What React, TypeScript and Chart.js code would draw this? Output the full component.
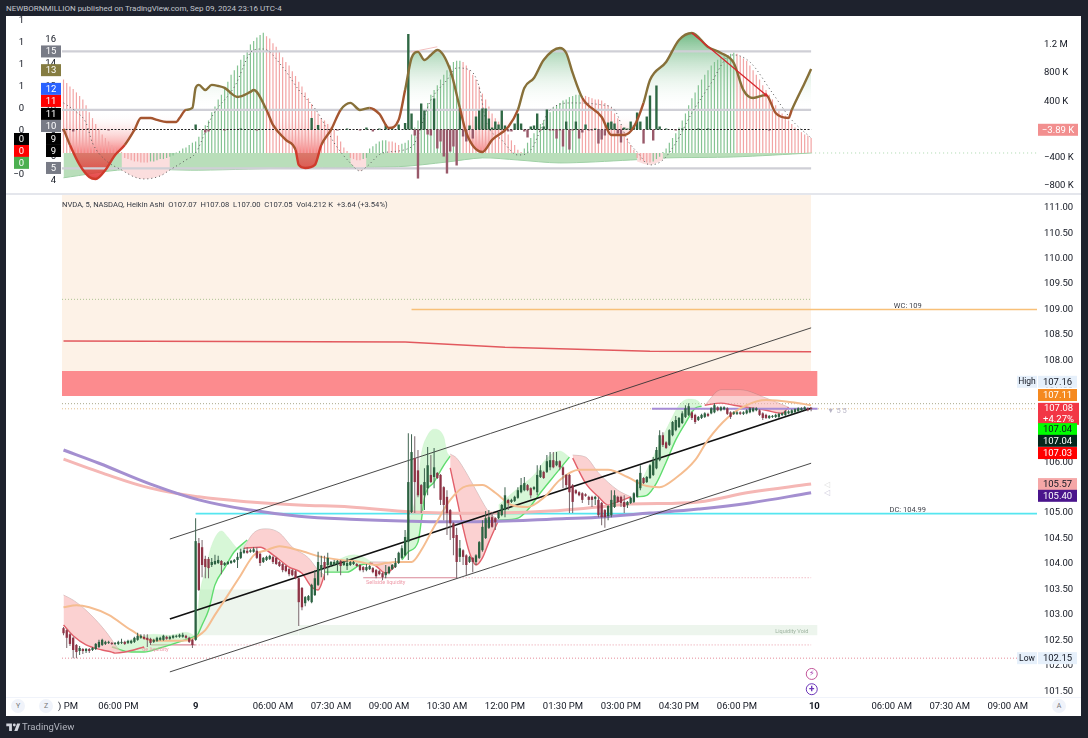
import React, { useEffect, useRef } from "react";
import { Chart, registerables } from "chart.js";

Chart.register(...registerables);

const FONT = "Roboto, 'Liberation Sans', sans-serif";

// ---------- axes ----------
const timeTickBars = [1.4, 17, 41, 65, 83, 101, 119, 137, 155, 173, 191, 209, 233, 257, 275, 293];
const timeTickLabels = [") PM", "06:00 PM", "9", "06:00 AM", "07:30 AM", "09:00 AM", "10:30 AM", "12:00 PM", "01:30 PM", "03:00 PM", "04:30 PM", "06:00 PM", "10", "06:00 AM", "07:30 AM", "09:00 AM"];
const priceTicks = [111, 110.5, 110, 109.5, 109, 108.5, 108, 107.5, 107, 106.5, 106, 105.5, 105, 104.5, 104, 103.5, 103, 102.5, 102, 101.5];
const volumeTicks = [1200, 800, 400, 0, -400, -800];
const volumeTickLabels = ["1.2 M", "800 K", "400 K", "0", "−400 K", "−800 K"];
const bandTicks = [16, 14, 12, 10, 8, 6, 4];
const outerTicks = [1.2, 1, 0.8, 0.6, 0.4, 0.2, 0, -0.2];

// ---------- price candles ----------
const opens = [
102.74,102.70,102.62,102.55,102.41,102.29,102.33,102.29,102.33,102.31,
102.33,102.37,102.41,102.43,102.45,102.45,102.43,102.43,102.45,102.47,
102.45,102.45,102.47,102.51,102.55,102.57,102.55,102.53,102.47,102.49,
102.51,102.51,102.57,102.53,102.55,102.57,102.57,102.57,102.59,102.55,
102.51,102.51,104.41,104.33,104.10,104.10,103.98,104.00,104.02,104.06,
103.98,104.00,104.02,104.04,104.08,104.12,104.22,104.26,104.24,104.24,
104.26,104.20,104.04,104.08,104.10,104.14,104.12,104.04,104.00,103.96,
103.90,103.88,103.86,103.72,103.53,103.23,103.29,103.25,103.39,103.59,
103.88,104.04,103.98,103.98,103.98,104.00,104.06,103.98,103.96,103.98,
104.00,104.00,103.98,103.94,103.88,103.90,103.92,103.88,103.86,103.82,
103.78,103.82,103.90,103.94,104.02,104.12,104.17,104.43,105.02,106.08,
105.84,105.55,105.35,105.49,105.75,105.71,105.79,105.75,105.51,105.32,
105.06,104.80,104.57,104.14,104.27,104.17,104.04,104.12,104.04,104.12,
104.27,104.51,104.71,104.92,104.90,104.90,104.96,105.06,105.26,105.22,
105.24,105.30,105.41,105.45,105.55,105.49,105.47,105.41,105.71,105.81,
105.81,105.90,106.04,105.94,106.02,105.90,105.75,105.75,105.55,105.45,
105.41,105.39,105.37,105.32,105.32,105.28,105.26,105.20,105.06,104.94,
104.96,105.12,105.32,105.32,105.22,105.16,105.20,105.22,105.32,105.49,
105.69,105.61,105.69,105.75,105.88,106.04,106.53,106.39,106.34,106.53,
106.63,106.69,106.77,106.89,106.93,106.98,106.93,106.83,106.87,106.89,
106.95,106.96,106.98,107.08,107.02,107.04,107.06,106.98,106.95,106.95,
106.98,106.95,106.96,106.98,107.00,107.02,107.02,106.96,106.93,106.87,
106.89,106.89,106.89,106.93,106.93,106.96,106.96,106.98,107.00,107.02,107.04,107.06,107.07];
const closes = [
102.64,102.55,102.43,102.31,102.27,102.35,102.29,102.33,102.29,102.35,
102.43,102.47,102.51,102.47,102.47,102.43,102.45,102.47,102.47,102.43,
102.49,102.49,102.55,102.59,102.59,102.53,102.51,102.45,102.51,102.55,
102.55,102.59,102.53,102.57,102.59,102.59,102.61,102.61,102.55,102.47,
102.41,104.45,103.49,103.98,103.94,103.92,104.04,104.06,104.08,103.98,
104.02,104.04,104.06,104.08,104.14,104.24,104.27,104.22,104.27,104.29,
104.12,104.02,104.12,104.14,104.16,104.04,104.00,103.96,103.88,103.86,
103.80,103.78,103.72,103.25,103.15,103.35,103.37,103.59,103.72,104.04,
103.98,103.92,104.12,104.04,104.04,104.06,103.96,104.04,104.02,104.04,
104.04,103.96,103.88,103.88,103.94,103.96,103.84,103.76,103.80,103.74,
103.84,103.94,103.98,104.02,104.22,104.31,104.53,105.61,106.20,105.61,
105.35,105.18,105.61,105.94,105.61,105.90,105.69,105.26,105.16,105.00,
104.80,104.51,104.04,104.31,104.14,103.98,104.14,104.04,104.17,104.43,
104.73,104.90,104.92,104.73,104.82,105.02,105.16,105.35,105.20,105.26,
105.32,105.45,105.55,105.59,105.45,105.35,105.51,105.75,105.84,105.69,
106.02,106.04,105.90,106.02,105.90,105.75,105.55,105.41,105.22,105.39,
105.35,105.26,105.34,105.26,105.26,105.32,104.96,104.92,104.92,105.14,
105.26,105.35,105.22,105.20,105.12,105.22,105.30,105.39,105.65,105.79,
105.59,105.71,105.94,106.02,106.24,106.53,106.34,106.28,106.63,106.79,
106.83,106.87,106.96,107.06,107.10,106.87,106.79,106.89,106.93,106.96,
106.91,107.06,107.12,107.02,107.08,107.08,106.95,106.89,106.98,106.98,
106.95,106.98,107.02,107.06,107.06,107.06,106.93,106.87,106.87,106.91,
106.91,106.93,106.95,106.96,107.00,107.00,107.02,107.04,107.06,107.06,107.08,107.02,107.05];
const highs = [
102.76,102.72,102.64,102.57,102.43,102.39,102.35,102.35,102.35,102.37,
102.45,102.51,102.53,102.49,102.49,102.47,102.47,102.49,102.53,102.49,
102.51,102.51,102.57,102.65,102.62,102.62,102.62,102.55,102.53,102.57,
102.57,102.61,102.59,102.59,102.61,102.61,102.63,102.65,102.61,102.57,
102.53,104.90,104.51,104.47,104.16,104.14,104.12,104.18,104.16,104.08,
104.04,104.06,104.08,104.10,104.22,104.30,104.32,104.33,104.30,104.33,
104.33,104.22,104.14,104.16,104.18,104.16,104.14,104.06,104.02,103.98,
103.92,103.90,103.88,103.74,103.55,103.37,103.39,103.61,103.88,104.24,
104.16,104.16,104.22,104.06,104.08,104.08,104.08,104.06,104.12,104.06,
104.06,104.02,104.00,103.96,104.00,103.98,103.94,103.90,103.88,103.84,
103.98,103.96,104.00,104.12,104.24,104.37,104.67,106.57,106.55,106.51,
106.24,105.57,105.88,106.30,106.14,106.28,105.81,105.77,105.53,105.45,
105.08,104.82,104.71,104.47,104.29,104.19,104.16,104.14,104.19,104.45,
104.86,105.04,105.06,105.02,104.92,105.04,105.18,105.51,105.28,105.28,
105.34,105.51,105.69,105.71,105.57,105.51,105.53,105.94,105.94,105.83,
106.14,106.20,106.20,106.20,106.04,105.92,105.77,105.77,105.57,105.47,
105.43,105.41,105.39,105.34,105.34,105.34,105.32,105.22,105.08,105.16,
105.45,105.45,105.34,105.34,105.35,105.24,105.32,105.41,105.67,105.94,
105.71,105.73,105.96,106.10,106.30,106.63,106.59,106.41,106.65,106.81,
106.91,106.89,107.00,107.12,107.16,107.00,106.95,106.91,106.95,106.98,
106.97,107.08,107.16,107.10,107.10,107.10,107.08,107.00,107.00,107.00,
107.00,107.00,107.04,107.08,107.08,107.08,107.04,106.98,106.95,106.93,
106.93,106.95,106.97,106.98,107.02,107.02,107.04,107.06,107.08,107.08,107.10,107.08,107.08];
const lows = [
102.60,102.35,102.39,102.15,102.15,102.21,102.23,102.25,102.25,102.29,
102.31,102.35,102.39,102.41,102.43,102.41,102.41,102.41,102.43,102.41,
102.43,102.43,102.45,102.49,102.53,102.51,102.37,102.41,102.45,102.47,
102.49,102.49,102.51,102.51,102.53,102.55,102.55,102.55,102.53,102.45,
102.35,102.49,103.47,103.74,103.72,103.72,103.94,103.98,104.00,103.80,
103.96,103.98,104.00,104.02,103.92,104.10,104.20,104.20,104.22,104.22,
104.10,103.96,104.02,104.06,104.08,104.00,103.98,103.94,103.84,103.84,
103.76,103.76,103.70,102.78,103.09,103.17,103.27,103.23,103.37,103.57,
103.74,103.68,103.78,103.94,103.96,103.86,103.78,103.96,103.88,103.96,
103.98,103.94,103.86,103.84,103.86,103.88,103.82,103.72,103.78,103.68,
103.72,103.80,103.88,103.92,104.00,104.10,104.15,104.08,105.00,105.00,
105.31,105.00,105.06,105.35,105.59,105.49,105.67,105.16,104.86,104.57,
104.47,104.17,103.72,104.04,103.98,103.78,104.02,103.84,103.98,104.10,
104.24,104.49,104.69,104.71,104.67,104.88,104.94,104.92,105.06,105.20,
105.22,105.28,105.39,105.43,105.43,105.29,105.45,105.35,105.69,105.67,
105.79,105.84,105.88,105.92,105.84,105.49,105.49,105.00,105.00,105.37,
105.33,105.20,105.32,105.16,105.12,105.16,104.92,104.76,104.71,104.86,
104.92,105.10,105.20,105.12,105.00,105.10,105.18,105.20,105.30,105.45,
105.57,105.59,105.67,105.73,105.86,106.02,106.30,106.26,106.32,106.51,
106.61,106.67,106.75,106.87,106.91,106.83,106.75,106.81,106.85,106.87,
106.89,106.94,106.96,107.00,107.00,107.02,106.93,106.85,106.93,106.93,
106.93,106.93,106.94,106.96,106.98,107.00,106.91,106.83,106.85,106.85,
106.87,106.87,106.87,106.91,106.91,106.94,106.94,106.96,106.98,107.00,107.02,107.00,107.00];

// ---------- price overlays: [bar, price] ----------
const purpleMA = [[0,106.24],[11,105.98],[27,105.57],[42,105.26],[58,105.06],[73,104.94],[89,104.88],[108,104.84],[120,104.83],[135,104.84],[151,104.88],[166,104.92],[182,105],[197,105.08],[213,105.2],[232,105.4]];
const pinkMA = [[0,106.06],[11,105.81],[27,105.49],[42,105.32],[58,105.22],[73,105.16],[89,105.12],[108,105.02],[120,105],[135,105],[151,105.04],[166,105.12],[176,105.18],[197,105.22],[213,105.41],[232,105.57]];
const redMA = [[0,108.38],[106,108.36],[137,108.26],[182,108.18],[232,108.17]];
const tanMA = [[0,103.15],[4,103.19],[8,103.15],[14,103],[21,102.7],[27,102.5],[33,102.49],[39,102.5],[41,102.56],[44,102.7],[47,103],[50,103.29],[55,103.78],[59,104.17],[63,104.27],[67,104.35],[73,104.27],[80,104.14],[86,104.08],[92,104.04],[97,103.98],[100,104.02],[104,104.04],[108,104.04],[111,104.27],[115,104.73],[120,105.26],[125,105.53],[130,105.55],[134,105.4],[139,105.16],[144,105.12],[149,105.3],[154,105.65],[160,105.85],[169,105.85],[175,105.71],[180,105.55],[185,105.51],[190,105.69],[196,106.04],[200,106.44],[206,106.87],[212,107.12],[218,107.22],[226,107.18],[232,107.12]];
const channelUpper = [[33,104.49],[232,108.64]];
const channelMid = [[33,102.92],[232,107.06]];
const channelLower = [[33,101.88],[232,105.98]];

const redClouds = [
  { up: [[0,103.39],[3,103.29],[7,103.09],[12,102.76],[15,102.51],[16,102.41],[19,102.27],[25,102.37]], low: [[0,102.8],[3,102.59],[7,102.41],[12,102.31],[15,102.27],[16,102.25],[19,102.27],[25,102.37]] },
  { up: [[56,104.33],[59,104.61],[63,104.69],[67,104.61],[71,104.33],[76,104.12],[79,103.88],[81,103.78]], low: [[56,104.31],[61,104.33],[65,104.18],[70,103.94],[74,103.82],[77,103.55],[79,103.49],[81,103.78]] },
  { up: [[95,104.04],[100,104.04],[103,103.96]], low: [[95,104.02],[97,103.96],[100,103.82],[103,103.96]] },
  { up: [[120,106.16],[122,106.08],[125,105.79],[128,105.45],[130,105.22],[132,105.02],[135,104.86]], low: [[120,105.89],[122,105.3],[124,104.71],[126,104.22],[128,103.98],[130,104.12],[132,104.43],[135,104.86]] },
  { up: [[158,106.14],[162,106.1],[166,105.79],[172,105.45],[176,105.32]], low: [[158,106.08],[162,105.59],[166,105.32],[169,105.16],[172,105.22],[176,105.32]] },
  { up: [[199,107.12],[204,107.42],[210,107.42],[218,107.26],[225,107.08]], low: [[199,107.12],[204,107.16],[208,107.12],[214,107.06],[218,107.02],[223,106.96],[225,107.08]] },
];
const greenClouds = [
  { up: [[15,102.37],[21,102.51],[28,102.62],[33,102.6],[38,102.66],[41,102.58]], low: [[15,102.37],[21,102.27],[25,102.27],[30,102.35],[35,102.45],[41,102.58]] },
  { up: [[41,102.51],[42,103.29],[44,103.88],[46,104.37],[49,104.65],[51,104.53],[53,104.37],[55,104.26],[57,104.47]], low: [[41,102.51],[43,102.8],[45,103.09],[47,103.59],[50,103.92],[53,104.24],[57,104.47]] },
  { up: [[81,103.98],[85,104.08],[90,104.18],[93,104.14],[96,104.02]], low: [[81,103.84],[88,103.84],[92,103.98],[96,104.02]] },
  { up: [[105,104.08],[107,104.77],[110,105.55],[111,106.14],[113,106.53],[115,106.65],[118,106.5],[119,106.2],[120,106.12]], low: [[105,104.08],[107,104.24],[110,104.43],[111,104.83],[112,105.3],[115,105.61],[118,105.94],[120,106.12]] },
  { up: [[135,105.16],[141,105.49],[146,105.75],[150,106.08],[154,106.22],[157,106.1]], low: [[135,104.86],[141,104.9],[144,105.06],[148,105.4],[153,105.79],[157,106.1]] },
  { up: [[178,105.45],[184,106.24],[188,106.77],[191,107.12],[194,107.24],[197,107.2],[198,107.1]], low: [[178,105.32],[181,105.35],[184,105.59],[187,106],[190,106.44],[193,106.77],[196,107.06],[198,107.1]] },
];

// ---------- price labels ----------
const priceNotes = [
  { bar: 262, price: 109.07, text: "WC: 109", color: "#3c3f48", size: 7.5 },
  { bar: 262, price: 105.06, text: "DC: 104.99", color: "#3c3f48", size: 7.5 },
  { bar: 100, price: 103.64, text: "Sellside liquidity", color: "#ee9aa8", size: 5.5 },
  { bar: 28.5, price: 102.31, text: "de liquidity", color: "#ee9aa8", size: 5.5 },
  { bar: 226, price: 102.68, text: "Liquidity Void", color: "#9db39f", size: 5.5 },
  { bar: 240, price: 107.0, text: "▼ 5 5", color: "#b8b5c6", size: 7.5 },
  { bar: 237, price: 105.55, text: "◁", color: "#ddd", size: 7.5 },
  { bar: 237, price: 105.39, text: "◁", color: "#cfcbdc", size: 7.5 },
];
const priceTagLabels = ["107.16", "107.11", "107.08\n+4.27%", "107.04", "107.04", "107.03", "105.57", "105.40", "102.15"];
const priceTagSlots = [107.58, 107.32, 106.95, 106.65, 106.42, 106.18, 105.57, 105.34, 102.15];
const priceTagFills = ["#e6f0fb", "#f5891f", "#f23645", "#00ff00", "#05271c", "#ff0000", "#f5a7a7", "#4a148c", "#e6f0fb"];
const priceTagInks = ["#131722", "#fff", "#fff", "#131722", "#fff", "#fff", "#131722", "#fff", "#131722"];

// ---------- indicator pane: [bar, value] ----------
const momentumLine = [[0,8.38],[2,7],[5,5.3],[8,4.27],[10,4.1],[13,4.87],[16,6.15],[19,7],[22,8.29],[24,9.31],[27,9.31],[29,9.15],[32,8.97],[35,8.97],[36,9.31],[38,10],[40,10.17],[41,11.88],[42,12.14],[44,11.7],[46,12.14],[48,12.05],[50,11.88],[54,11.11],[58,11.54],[59,11.71],[63,10],[65,8.72],[69,7.44],[72,6.58],[73,5.3],[75,5.04],[78,5.3],[80,7],[83,8.29],[86,10],[89,10.6],[92,10],[95,10.17],[98,9.66],[101,8.46],[104,9.15],[106,11.7],[108,14.44],[110,14.96],[112,14.27],[114,14.7],[116,15.13],[120,13.42],[123,10.17],[125,8.03],[130,6.41],[133,7.44],[138,8.55],[141,10],[143,11.88],[146,12.73],[149,14.27],[154,15.3],[156,14.87],[158,13.16],[161,11.02],[167,9.4],[170,7.86],[174,7.86],[177,8.55],[180,10.6],[182,12.56],[187,14.1],[191,15.98],[195,16.58],[200,15.38],[204,14.87],[208,14.01],[211,11.7],[214,11.02],[218,11.28],[221,9.74],[225,9.31],[226,10],[230,12.31],[232,13.5]];
const dottedCurve = [[0,10.6],[4,9.83],[7,8.89],[9,7.18],[13,5.72],[18,4.87],[22,4.27],[25,4.1],[30,4.36],[33,4.87],[38,5.72],[41,6.32],[46,9.4],[53,11.96],[59,15.13],[62,15.21],[68,13.67],[73,11.71],[79,9.74],[84,7.18],[89,5.47],[92,4.78],[94,5.13],[99,6.32],[108,6.84],[114,10.85],[119,12.56],[122,13.59],[126,13.42],[129,11.96],[131,9.14],[136,7.43],[141,6.15],[145,6.58],[151,10],[158,10.6],[167,10.43],[171,10],[175,7.43],[178,6.41],[182,5.3],[186,5.72],[190,7.18],[195,9.74],[201,12.31],[206,14.53],[208,14.7],[213,14.1],[220,11.45],[226,9.14],[232,7.6]];
const squeezeZoneA = [[18,4.87],[22,4.27],[25,4.1],[30,4.36],[33,4.87]];
const squeezeZoneB = [[89,5.47],[92,4.78],[94,5.13]];
const squeezeZoneC = [[178,5.6],[182,5.3],[186,5.72]];
const histTops = [
12.6,12.3,12.0,11.8,11.5,11.2,10.9,10.4,9.8,9.3,8.8,8.4,7.9,7.6,7.3,7.0,6.8,6.6,6.4,
5.9,5.8,5.7,5.6,5.6,5.5,5.5,5.5,5.6,5.6,5.7,5.8,5.8,5.9,6.0,
6.1,6.3,6.5,6.7,6.8,7.0,7.2,7.3,7.7,8.3,8.7,9.1,9.8,10.3,10.9,11.3,11.9,12.4,13.0,13.4,13.8,14.3,14.7,15.1,15.6,15.9,16.2,16.4,
16.6,16.3,16.1,15.7,15.4,15,14.5,14.1,13.8,13.3,12.9,12.4,12,11.5,11,10.5,10,9.7,9.3,9.1,8.8,8.5,8.3,7.8,7.3,6.8,6.5,
5.9,5.8,5.7,5.7,5.8,5.9,
6.7,6.9,7.1,7.3,7.4,7.4,7.3,7.3,7.2,7.0,7.1,7.2,7.4,7.9,8.5,9.1,9.3,10,10.6,11.3,11.7,12.1,12.6,13,13.4,13.8,14.1,14.2,
14.2,14.1,13.8,13.4,13,12.6,12.0,11.4,10.9,10.3,9.7,9.3,9,8.6,8.3,7.9,7.4,7,6.6,
6.4,6.7,7.2,7.6,8,8.5,8.8,9.1,9.5,9.8,10.2,10.4,10.6,10.8,10.9,11.1,11.2,
11.3,11.3,11.2,11.2,11.1,11,10.9,10.9,10.8,10.6,10.4,10.2,9.7,9.3,8.7,8.1,7.6,7,6.6,
5.9,5.7,5.6,5.5,5.5,5.6,5.8,6,
6.4,6.7,7.2,7.6,8,8.5,9.1,9.7,10.4,11,11.5,12.1,12.6,13,13.4,13.8,14.1,14.3,14.5,14.6,14.7,14.8,
14.9,14.8,14.6,14.4,14.2,13.8,13.4,13,12.6,12.1,11.7,11.3,10.9,10.4,10,9.7,9.5,9.1,8.8,8.5,8.3,8.1,7.9,7.8,7.6];
const ribbonLower = [[0,4.2],[19,4.9],[42,4.85],[73,5.05],[104,5.15],[119,5.55],[130,5.9],[141,5.72],[154,5.47],[176,5.72],[187,5.9],[208,5.98],[232,6.32]];
const deltaBars = [[0,-28],[3,-28],[14,-14],[22,-14],[41,71],[44,-43],[45,-28],[50,-14],[55,14],[60,-14],[77,163],[79,64],[85,-14],[88,14],[92,-14],[94,28],[96,-28],[98,14],[100,71],[102,28],[104,71],[106,92],[107,1354],[108,227],[109,-85],[110,-695],[111,369],[112,270],[113,-71],[114,-85],[115,440],[116,-269],[117,-170],[118,-383],[119,-624],[120,-312],[121,-241],[122,-510],[123,298],[124,-99],[125,-170],[126,57],[127,-128],[128,184],[129,269],[130,298],[131,298],[132,156],[133,28],[134,113],[135,71],[136,269],[137,57],[138,-28],[139,-28],[140,85],[141,227],[142,85],[143,-28],[144,-113],[145,43],[146,57],[147,227],[148,-14],[149,43],[150,284],[151,-14],[152,-14],[153,-128],[154,-14],[155,-241],[156,113],[157,-284],[158,-14],[159,113],[160,-128],[161,-43],[162,71],[163,-14],[164,-14],[165,14],[166,-199],[167,-142],[168,-85],[169,99],[170,113],[171,85],[172,-57],[173,-184],[174,28],[175,14],[176,113],[177,57],[178,241],[179,113],[180,-199],[181,184],[182,482],[183,-156],[184,624],[185,43],[187,14],[190,-14],[192,14],[197,14],[200,14],[219,-14]];
const arrowLine = [[195,16.58],[218,11.28]];
const faintTrend = [[108,14.96],[116,15.4]];
const HIST_BASE = 6.32;

const bandTagLabels = ["15", "13", "12", "11", "11", "10", "9", "9", "5"];
const bandTagSlots = [15, 13.4, 11.8, 10.77, 9.66, 8.63, 7.52, 6.49, 5.04];
const bandTagFills = ["#787b86", "#857c41", "#2962ff", "#ff0000", "#000000", "#787b86", "#000000", "#000000", "#787b86"];
const outerTagLabels = ["0", "0", "0"];
const outerTagSlots = [0.127, 0.018, -0.09];
const outerTagFills = ["#000000", "#ff0000", "#4caf50"];

const legendText = "NVDA, 5, NASDAQ, Heikin Ashi  O107.07  H107.08  L107.00  C107.05  Vol4.212 K  +3.64 (+3.54%)";
const headerText = "NEWBORNMILLION published on TradingView.com, Sep 09, 2024 23:16 UTC-4";

const pts = (list: number[][]) => list.map(([x, y]) => ({ x, y }));
const X_MIN = -0.47;
const X_MAX = 302.1;
const X_END = 234;
const BAND_MIN = 2.9;
const BAND_MAX = 18.03;
const TOP_HEIGHT = 177;
const bandPixel = (v: number) => ((BAND_MAX - v) / (BAND_MAX - BAND_MIN)) * TOP_HEIGHT;

function lineSet(list: number[][], color: string, width: number, order: number, extra: any = {}) {
  return { type: "line", data: pts(list), borderColor: color, borderWidth: width, pointRadius: 0, fill: false, order, ...extra };
}
function zone(x0: number, x1: number, top: number, bottom: number, color: string, order: number) {
  return { type: "line", data: pts([[x0, top], [x1, top]]), borderWidth: 0, pointRadius: 0, backgroundColor: color, fill: { value: bottom }, order };
}
function barSet(data: any[], yAxisID: string, width: number, color: any, order: number) {
  return { type: "bar", data, yAxisID, grouped: false, barThickness: width, maxBarThickness: width, inflateAmount: 0, minBarLength: 0.8, backgroundColor: color, borderWidth: 0, order };
}
function presetTicks(values: number[]) {
  return (scale: any) => { scale.ticks = values.map((value) => ({ value })); };
}
function clearPadding(scale: any) {
  scale.paddingTop = 0;
  scale.paddingBottom = 0;
  scale.paddingLeft = 0;
  scale.paddingRight = 0;
}
function fixedWidth(w: number) {
  return (scale: any) => { scale.width = w; clearPadding(scale); };
}
function tag(ctx: any, x: number, y: number, w: number, h: number, fill: string, ink: string, text: string, size = 9.5) {
  ctx.fillStyle = fill;
  ctx.fillRect(x, y - h / 2, w, h);
  ctx.fillStyle = ink;
  ctx.textAlign = "center";
  ctx.textBaseline = "middle";
  ctx.font = `${size}px ${FONT}`;
  const lines = text.split("\n");
  lines.forEach((t, i) => ctx.fillText(t, x + w / 2, y + (i - (lines.length - 1) / 2) * 10.5 + 0.5));
}

const pricePlugin = {
  id: "priceTags",
  afterDraw(chart: any) {
    const { ctx, scales } = chart;
    const yS = scales.y, xS = scales.x;
    ctx.save();
    priceNotes.forEach((n) => {
      ctx.fillStyle = n.color;
      ctx.font = `${n.size}px ${FONT}`;
      ctx.textAlign = "center";
      ctx.textBaseline = "middle";
      ctx.fillText(n.text, xS.getPixelForValue(n.bar), yS.getPixelForValue(n.price));
    });
    priceTagLabels.forEach((label, i) => {
      const y = yS.getPixelForValue(priceTagSlots[i]);
      const h = label.includes("\n") ? 22 : 12;
      tag(ctx, 1032, y, i === 2 ? 41 : 39, h, priceTagFills[i], priceTagInks[i], label);
    });
    tag(ctx, 1011, yS.getPixelForValue(107.58), 20, 12, "#e6f0fb", "#131722", "High", 8.5);
    tag(ctx, 1011, yS.getPixelForValue(102.15), 20, 12, "#e6f0fb", "#131722", "Low", 8.5);
    // chart-side icons
    const ix = xS.getPixelForValue(232.2);
    const iy1 = yS.getPixelForValue(101.84), iy2 = yS.getPixelForValue(101.54);
    ctx.lineWidth = 1;
    ctx.strokeStyle = "#c2569a";
    ctx.beginPath(); ctx.arc(ix, iy1, 5.5, 0, Math.PI * 2); ctx.stroke();
    ctx.strokeStyle = "#6b35b8";
    ctx.beginPath(); ctx.arc(ix, iy2, 5.5, 0, Math.PI * 2); ctx.stroke();
    ctx.fillStyle = "#a33bb0";
    ctx.font = `8px 'DejaVu Sans'`;
    ctx.textAlign = "center";
    ctx.textBaseline = "middle";
    ctx.fillText("⚡", ix, iy1);
    ctx.fillStyle = "#6b35b8";
    ctx.font = `bold 10px ${FONT}`;
    ctx.fillText("+", ix, iy2);
    ctx.restore();
  },
};

const indicatorPlugin = {
  id: "indicatorTags",
  afterDraw(chart: any) {
    const { ctx, scales } = chart;
    ctx.save();
    bandTagLabels.forEach((label, i) => {
      const narrow = label.length === 1;
      tag(ctx, narrow ? 40 : 35, scales.y1.getPixelForValue(bandTagSlots[i]), narrow ? 15 : 20, 12, bandTagFills[i], "#fff", label);
    });
    outerTagLabels.forEach((label, i) => {
      tag(ctx, 8, scales.y2.getPixelForValue(outerTagSlots[i]), 15, 12, outerTagFills[i], "#fff", label);
    });
    tag(ctx, 1032, scales.v.getPixelForValue(-3.89), 40, 12, "#f28f8f", "#fff", "−3.89 K");
    ctx.restore();
  },
};

function priceDatasets() {
  const ds: any[] = [];
  ds.push(zone(X_MIN, 232, 111.4, 107.79, "#fdf2e7", 60));
  ds.push(zone(X_MIN, X_END, 107.79, 107.3, "#fc8b8e", 59));
  ds.push(zone(42, 73, 103.5, 102.6, "#edf5ed", 58));
  ds.push(zone(73, X_END, 102.8, 102.6, "#edf5ed", 58));
  ds.push(lineSet([[X_MIN, 109.2], [232, 109.2]], "rgba(120,165,90,0.6)", 1, 40, { borderDash: [1, 2] }));
  ds.push(lineSet([[108, 109], [X_MAX, 109]], "#f8c078", 1.4, 40));
  ds.push(lineSet([[41, 104.99], [X_MAX, 104.99]], "#55e6f0", 1.6, 40));
  ds.push(lineSet(redMA, "#e2595e", 1.5, 30));
  ds.push(lineSet(channelUpper, "#333", 0.9, 20));
  ds.push(lineSet(channelLower, "#333", 0.9, 20));
  ds.push(lineSet(channelMid, "#111", 1.7, 20));
  ds.push(lineSet(pinkMA, "#f5b7b5", 3, 25, { tension: 0.4 }));
  ds.push(lineSet(purpleMA, "#a48fd0", 3, 24, { tension: 0.4 }));
  ds.push(lineSet([[182.6, 107.05], [X_END, 107.05]], "#a58bd6", 2.2, 24));
  ds.push(lineSet([[41, 102.41], [232, 102.41]], "#e89aa6", 1, 35, { borderDash: [1, 2] }));
  ds.push(lineSet([[27, 102.41], [41, 102.41]], "#d98797", 1.2, 35));
  ds.push(lineSet([[X_MIN, 102.15], [X_MAX, 102.15]], "#e58a98", 1, 35, { borderDash: [1, 2] }));
  ds.push(lineSet([[93, 103.73], [122, 103.73]], "#d98797", 1.2, 35));
  ds.push(lineSet([[122, 103.73], [232, 103.73]], "#e89aa6", 1, 35, { borderDash: [1, 2] }));
  ds.push(lineSet([[X_MIN, 107.15], [X_MAX, 107.15]], "#a8a88a", 1, 34, { borderDash: [1, 2] }));
  ds.push(lineSet([[X_MIN, 107.05], [X_MAX, 107.05]], "#e3c08e", 1, 34, { borderDash: [1, 2] }));
  redClouds.forEach((c) => {
    ds.push(lineSet(c.up, "rgba(150,125,125,0.5)", 0.8, 28, { cubicInterpolationMode: "monotone" }));
    ds.push(lineSet(c.low, "#e2606b", 1.4, 27, { cubicInterpolationMode: "monotone", fill: "-1", backgroundColor: "rgba(249,180,180,0.62)" }));
  });
  greenClouds.forEach((c) => {
    ds.push(lineSet(c.up, "rgba(150,230,150,0.25)", 0.6, 28, { cubicInterpolationMode: "monotone" }));
    ds.push(lineSet(c.low, "#5fdc6e", 1.4, 27, { cubicInterpolationMode: "monotone", fill: "-1", backgroundColor: "rgba(175,240,175,0.5)" }));
  });
  ds.push(lineSet(tanMA, "#f5bd90", 2, 15, { cubicInterpolationMode: "monotone" }));
  const isUp = opens.map((o, i) => closes[i] >= o);
  ds.push(barSet(highs.map((h, i) => ({ x: i, y: [lows[i], h] })), "y", 1, isUp.map((u) => (u ? "#3f6350" : "#77656a")), 5));
  ds.push(barSet(opens.map((o, i) => ({ x: i, y: [o, closes[i]] })), "y", 2.3, isUp.map((u) => (u ? "#2b6241" : "#8e3345")), 4));
  return ds;
}

function indicatorDatasets() {
  const ds: any[] = [];
  ds.push({ ...lineSet([[0, HIST_BASE], [232, HIST_BASE]], "transparent", 0, 40) });
  ds.push({ ...lineSet(ribbonLower, "#9fd0a5", 1, 39, { tension: 0.3, fill: "-1", backgroundColor: "#b9deba" }) });
  [squeezeZoneA, squeezeZoneB, squeezeZoneC].forEach((z) => {
    ds.push(lineSet(z, "transparent", 0, 38, { tension: 0.3, fill: { value: HIST_BASE }, backgroundColor: "#fbdede" }));
  });
  ds.push(lineSet(momentumLine, "transparent", 0, 37, {
    cubicInterpolationMode: "monotone",
    fill: { value: 10 },
    backgroundColor: (c: any) => {
      const y0 = bandPixel(16.5), y1 = bandPixel(10), y2 = bandPixel(4.2), y3 = bandPixel(6.5);
      const g = c.chart.ctx.createLinearGradient(0, y0, 0, y2);
      const mid = (y1 - y0) / (y2 - y0);
      g.addColorStop(0, "rgba(70,165,95,0.75)");
      g.addColorStop(mid, "rgba(255,255,255,0)");
      g.addColorStop(Math.min(1, mid + 0.02), "rgba(255,255,255,0)");
      g.addColorStop((y3 - y0) / (y2 - y0), "rgba(240,60,60,0.6)");
      g.addColorStop(1, "rgba(225,45,45,0.85)");
      return g;
    },
  }));
  let rising = false;
  const histColors = histTops.map((t, i) => {
    if (i > 0 && t > histTops[i - 1]) rising = true;
    if (i > 0 && t < histTops[i - 1]) rising = false;
    return rising ? "#84c392" : "#f2a4a4";
  });
  ds.push(barSet(histTops.map((t, i) => ({ x: i, y: [HIST_BASE, t] })), "y1", 1.2, histColors, 20));
  ds.push(lineSet([[232, HIST_BASE], [X_MAX, HIST_BASE]], "#a9d7ac", 1, 15, { borderDash: [1, 3] }));
  [15, 10, 5].forEach((v) => ds.push(lineSet([[X_MIN, v], [232, v]], "#cfcfd6", 2.2, 14)));
  ds.push(lineSet(dottedCurve, "#555", 1, 12, { cubicInterpolationMode: "monotone", borderDash: [1, 3] }));
  ds.push(lineSet([[X_MIN, 0], [232, 0]], "#222", 1, 10, { yAxisID: "v", borderDash: [2, 1.5] }));
  ds.push(barSet(deltaBars.map(([x, k]) => ({ x, y: [0, k] })), "v", 2.4, deltaBars.map(([, k]) => (k >= 0 ? "#2f6844" : "#99596a")), 8));
  ds.push(lineSet(faintTrend, "#f3c0c0", 1, 6));
  ds.push(lineSet(momentumLine, "#8a6f3a", 2.4, 4, {
    cubicInterpolationMode: "monotone",
    segment: {
      borderColor: (c: any) => {
        const v = Math.min(c.p0.parsed.y, c.p1.parsed.y);
        return v < 6.3 ? "#cf3b2c" : v < 9.9 ? "#a5552f" : "#877039";
      },
    },
  }));
  ds.push(lineSet(arrowLine, "#d6262c", 1.3, 2, {
    pointRadius: [0, 2.5],
    pointStyle: "triangle",
    pointBackgroundColor: "#d6262c",
    pointBorderWidth: 0,
  }));
  return ds.map((d) => (d.yAxisID ? d : { ...d, yAxisID: "y1" }));
}

const tickFont = { family: FONT, size: 9.5 };
const noGrid = { display: false, drawTicks: false };

export default function App() {
  const topRef = useRef<HTMLCanvasElement>(null);
  const botRef = useRef<HTMLCanvasElement>(null);

  useEffect(() => {
    const base: any = {
      responsive: false,
      animation: false,
      plugins: { legend: { display: false }, tooltip: { enabled: false } },
      events: [],
    };
    const top = new Chart(topRef.current as any, {
      data: { datasets: indicatorDatasets() } as any,
      plugins: [indicatorPlugin],
      options: {
        ...base,
        layout: { padding: 0, autoPadding: false },
        scales: {
          x: { type: "linear", display: false, offset: false, min: X_MIN, max: X_MAX },
          v: {
            position: "right", min: -900, max: 1609,
            grid: noGrid, border: { display: false },
            afterBuildTicks: presetTicks(volumeTicks),
            afterFit: fixedWidth(44),
            ticks: { autoSkip: false, padding: 7, color: "#131722", font: tickFont, callback: (_: any, i: number) => volumeTickLabels[i] },
          },
          y1: {
            position: "left", min: BAND_MIN, max: BAND_MAX, weight: 1,
            grid: noGrid, border: { display: false },
            afterBuildTicks: presetTicks(bandTicks),
            afterFit: fixedWidth(28),
            ticks: { autoSkip: false, padding: 6, color: "#131722", font: tickFont, callback: (v: any) => String(v) },
          },
          y2: {
            position: "left", min: -0.364, max: 1.245, weight: 2,
            grid: noGrid, border: { display: false },
            afterBuildTicks: presetTicks(outerTicks),
            afterFit: fixedWidth(28),
            ticks: { autoSkip: false, padding: 10, color: "#131722", font: tickFont, callback: (v: any) => Number(v).toFixed(0).replace("-", "−") },
          },
        },
      },
    } as any);
    const bot = new Chart(botRef.current as any, {
      data: { datasets: priceDatasets() } as any,
      plugins: [pricePlugin],
      options: {
        ...base,
        layout: { padding: { left: 56 }, autoPadding: false },
        scales: {
          x: {
            type: "linear", position: "bottom", offset: false, min: X_MIN, max: X_MAX,
            grid: noGrid, border: { display: false },
            afterBuildTicks: presetTicks(timeTickBars),
            afterFit: (s: any) => { s.height = 19; clearPadding(s); },
            ticks: {
              autoSkip: false, maxRotation: 0, padding: 4, color: "#131722",
              font: (c: any) => {
                const t = c.tick && timeTickBars.indexOf(c.tick.value);
                return { family: FONT, size: 9.5, weight: t === 2 || t === 12 ? "bold" : "normal" };
              },
              callback: (_: any, i: number) => timeTickLabels[i],
            },
          },
          y: {
            position: "right", min: 101.387, max: 111.25,
            grid: noGrid, border: { display: false },
            afterBuildTicks: presetTicks(priceTicks),
            afterFit: fixedWidth(44),
            ticks: { autoSkip: false, padding: 7, color: "#131722", font: tickFont, callback: (v: any) => Number(v).toFixed(2) },
          },
        },
      },
    } as any);
    return () => { top.destroy(); bot.destroy(); };
  }, []);

  const abs = (s: any) => ({ position: "absolute", ...s });
  const pill = (x: number, t: string) => (
    <div style={abs({ left: x - 7, top: 699, width: 14, height: 14, borderRadius: 7, background: "#f0f3fa", color: "#777", font: `7px ${FONT}`, lineHeight: "14px", textAlign: "center" })}>{t}</div>
  );
  return (
    <div style={{ position: "fixed", left: 0, top: 0, width: 1088, height: 738, background: "#1e222d", overflow: "hidden" }}>
      <div style={abs({ left: 6, top: 4, color: "#c3c6ce", font: `8px ${FONT}`, lineHeight: "10px", whiteSpace: "pre" })}>{headerText}</div>
      <div style={abs({ left: 6, top: 16, width: 1075, height: 700, background: "#fff" })} />
      <canvas ref={topRef} width={1075} height={177} style={abs({ left: 6, top: 16, display: "block" })} />
      <div style={abs({ left: 6, top: 193, width: 1075, height: 2, background: "#e4e6ec" })} />
      <canvas ref={botRef} width={1075} height={521} style={abs({ left: 6, top: 195, display: "block" })} />
      <div style={abs({ left: 6, top: 697, width: 1075, height: 1, background: "#f0f3fa" })} />
      <div style={abs({ left: 62, top: 200, color: "#333842", font: `7.6px ${FONT}`, lineHeight: "10px", whiteSpace: "pre" })}>{legendText}</div>
      {pill(18, "Y")}
      {pill(46, "Z")}
      {pill(1059, "A")}
      <svg width="15" height="8" viewBox="0 0 36 20" style={abs({ left: 6, top: 723 })}>
        <path d="M14 20H7V8H0V1h14v19zM28 20h-8l7-19h8l-7 19z" fill="#d1d4dc" />
        <circle cx="20" cy="5" r="3.6" fill="#d1d4dc" />
      </svg>
      <div style={abs({ left: 22, top: 721, color: "#b2b5be", font: `9.5px ${FONT}`, lineHeight: "12px" })}>TradingView</div>
    </div>
  );
}
